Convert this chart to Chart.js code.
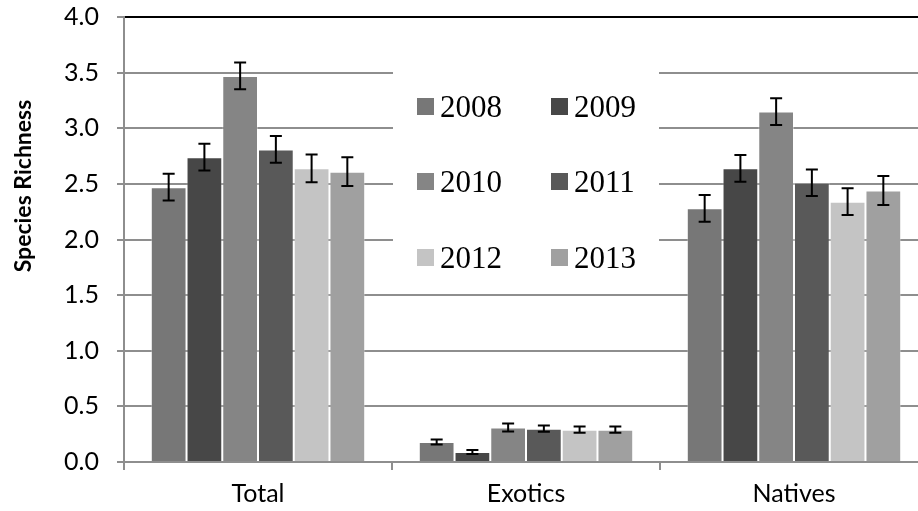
<!DOCTYPE html>
<html>
<head>
<meta charset="utf-8">
<script src="https://cdn.jsdelivr.net/npm/chart.js@4.4.1/dist/chart.umd.min.js"></script>
<style>
  html, body { margin: 0; padding: 0; background: #fff; overflow: hidden; }
  #wrap { position: absolute; left: 0; top: 0; width: 930px; height: 511px; }
</style>
</head>
<body>
<div id="wrap"><canvas id="c"></canvas></div>
<script>
// ---- data ----
const categories = ['Total', 'Exotics', 'Natives'];
const years = ['2008', '2009', '2010', '2011', '2012', '2013'];
const mean2008 = [2.47, 0.18, 2.28];
const mean2009 = [2.74, 0.09, 2.64];
const mean2010 = [3.47, 0.31, 3.15];
const mean2011 = [2.81, 0.30, 2.51];
const mean2012 = [2.64, 0.29, 2.34];
const mean2013 = [2.61, 0.29, 2.44];
const err2008 = [0.12, 0.022, 0.12];
const err2009 = [0.12, 0.018, 0.12];
const err2010 = [0.12, 0.035, 0.12];
const err2011 = [0.12, 0.028, 0.12];
const err2012 = [0.125, 0.028, 0.12];
const err2013 = [0.13, 0.028, 0.13];
const yTicks = [0, 0.5, 1.0, 1.5, 2.0, 2.5, 3.0, 3.5, 4.0];
const yTitle = 'Species Richness';

const means = [mean2008, mean2009, mean2010, mean2011, mean2012, mean2013];
const errs = [err2008, err2009, err2010, err2011, err2012, err2013];
const colors = ['#777777', '#474747', '#858585', '#595959', '#c4c4c4', '#a0a0a0'];

const datasets = years.map((y, i) => ({
  label: y,
  data: means[i],
  errors: errs[i],
  backgroundColor: colors[i],
  borderColor: 'rgba(255,255,255,0.35)',
  borderWidth: 1,
  categoryPercentage: 0.8,
  barPercentage: 1.0
}));

const GRID = '#8e8e8e';

const legendBoxPlugin = {
  id: 'legendBox',
  beforeDatasetsDraw(chart) {
    const ctx = chart.ctx;
    ctx.save();
    ctx.fillStyle = '#ffffff';
    ctx.fillRect(393, 24, 266, 266);
    ctx.restore();
  },
  afterDatasetsDraw(chart) {
    const ctx = chart.ctx;
    ctx.save();
    const colX = [417, 551];
    const rowTop = [98, 173, 249];
    const size = 17;
    ctx.font = '31px "Liberation Serif", "Times New Roman", serif';
    ctx.textBaseline = 'alphabetic';
    ctx.textAlign = 'left';
    chart.data.datasets.forEach((ds, i) => {
      const c = i % 2, r = Math.floor(i / 2);
      const x = colX[c], y = rowTop[r];
      ctx.fillStyle = ds.backgroundColor;
      ctx.fillRect(x, y, size, size);
      ctx.fillStyle = '#000';
      ctx.fillText(ds.label, x + 23, y + size / 2 + 10.5);
    });
    ctx.restore();
  }
};

const errorBarPlugin = {
  id: 'errorBars',
  afterDatasetsDraw(chart) {
    const ctx = chart.ctx;
    const ys = chart.scales.y;
    ctx.save();
    ctx.strokeStyle = '#000';
    ctx.lineWidth = 2;
    chart.data.datasets.forEach((ds, i) => {
      const meta = chart.getDatasetMeta(i);
      meta.data.forEach((bar, j) => {
        const v = ds.data[j], e = ds.errors[j];
        const yt = ys.getPixelForValue(v + e);
        const yb = ys.getPixelForValue(v - e);
        const x = bar.x;
        ctx.beginPath();
        ctx.moveTo(x, yt); ctx.lineTo(x, yb);
        ctx.moveTo(x - 6, yt); ctx.lineTo(x + 6, yt);
        ctx.moveTo(x - 6, yb); ctx.lineTo(x + 6, yb);
        ctx.stroke();
      });
    });
    ctx.restore();
  }
};

const yTitlePlugin = {
  id: 'yTitle',
  afterDraw(chart) {
    const ctx = chart.ctx;
    ctx.save();
    ctx.translate(24, 186);
    ctx.rotate(-Math.PI / 2);
    ctx.font = 'bold 23px Lato, "Open Sans", sans-serif';
    ctx.fillStyle = '#000';
    ctx.textAlign = 'center';
    ctx.textBaseline = 'middle';
    ctx.fillText(yTitle, 0, 0);
    ctx.restore();
  }
};

new Chart(document.getElementById('c'), {
  type: 'bar',
  data: { labels: categories, datasets },
  plugins: [legendBoxPlugin, errorBarPlugin, yTitlePlugin],
  options: {
    responsive: true,
    maintainAspectRatio: false,
    animation: false,
    devicePixelRatio: 1,
    layout: { padding: { top: 17, right: 2, left: 0, bottom: 0 } },
    plugins: {
      legend: { display: false },
      tooltip: { enabled: false }
    },
    scales: {
      x: {
        offset: true,
        grid: {
          offset: true,
          drawOnChartArea: false,
          drawTicks: true,
          tickLength: 8,
          color: GRID,
          lineWidth: 2
        },
        border: { display: true, color: GRID, width: 2 },
        ticks: {
          color: '#000',
          padding: 9,
          font: { family: 'Lato', size: 25 }
        },
        afterFit(s) { s.height = 49; }
      },
      y: {
        min: 0,
        max: 4,
        afterBuildTicks(s) { s.ticks = yTicks.map(v => ({ value: v })); },
        grid: {
          color: (c) => (c.tick && c.tick.value === 4 ? '#000000' : GRID),
          tickColor: GRID,
          lineWidth: 2,
          tickLength: 7,
          drawTicks: true
        },
        border: { display: true, color: GRID, width: 2 },
        ticks: {
          color: '#000',
          padding: 18,
          font: { family: 'Lato', size: 25 },
          callback: (v) => Number(v).toFixed(1)
        },
        afterFit(s) { s.width = 124; s.paddingTop = 0; s.paddingBottom = 0; }
      }
    }
  }
});
</script>
</body>
</html>
